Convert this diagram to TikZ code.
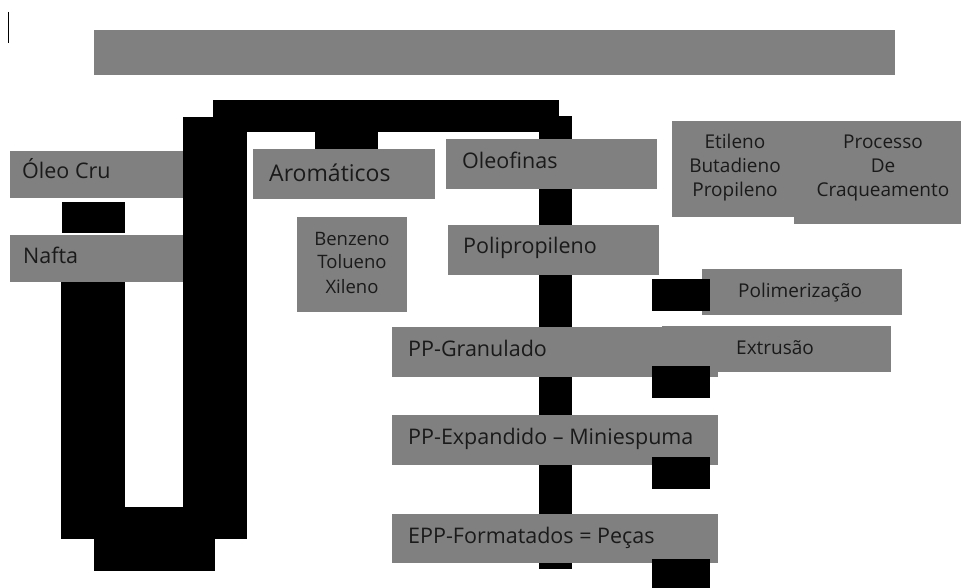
\documentclass[tikz,border=0pt]{standalone}
\usepackage{fontspec}
\setmainfont{Open Sans}
\definecolor{boxgray}{HTML}{808080}
\definecolor{txt}{HTML}{1A1A1A}
\begin{document}
\begin{tikzpicture}[x=1pt,y=-1pt,
  box/.style={fill=boxgray,draw=none,inner sep=0pt,outer sep=0pt,anchor=north west},
  bar/.style={fill=black},
  lbl/.style={anchor=base west,inner sep=0pt,text=txt,font=\fontsize{21.5}{24}\selectfont},
  small/.style={anchor=base west,inner sep=0pt,text=txt,font=\fontsize{19}{24}\selectfont},
  multi/.style={anchor=base,inner sep=0pt,text=txt,font=\fontsize{19}{24}\selectfont}]
\useasboundingbox (0,0) rectangle (961,588);
% pipe (black bars)
\fill[bar] (213,100) rectangle (559,132);
\fill[bar] (539,116) rectangle (572,569);
\fill[bar] (183,117) rectangle (247,539);
\fill[bar] (61,270) rectangle (125,539);
\fill[bar] (61,507) rectangle (247,539);
\fill[bar] (94,539) rectangle (215,571);
\fill[bar] (62,202) rectangle (125,233);
\fill[bar] (315,132) rectangle (378,149);
\draw[line width=1pt] (8,12) -- (8,43);
% gray boxes
\node[box,minimum width=801pt,minimum height=45pt] (title) at (94,30) {};
\node[box,minimum width=173pt,minimum height=47pt] (oleo) at (10,151) {};
\node[box,minimum width=173pt,minimum height=47pt] (nafta) at (10,235) {};
\node[box,minimum width=182pt,minimum height=50pt] (arom) at (253,149) {};
\node[box,minimum width=211pt,minimum height=50pt] (oleof) at (446,139) {};
\node[box,minimum width=110pt,minimum height=95pt] (btx) at (297,217) {};
\node[box,minimum width=211pt,minimum height=50pt] (polip) at (448,225) {};
\node[box,minimum width=128pt,minimum height=96pt] (ebp) at (672,121) {};
\node[box,minimum width=167pt,minimum height=103pt] (proc) at (794,121) {};
\node[box,minimum width=200pt,minimum height=46pt] (polim) at (702,269) {};
\node[box,minimum width=326pt,minimum height=50pt] (gran) at (392,327) {};
\node[box,minimum width=229pt,minimum height=46pt] (extr) at (662,326) {};
\node[box,minimum width=326pt,minimum height=50pt] (expand) at (392,415) {};
\node[box,minimum width=326pt,minimum height=49pt] (epp) at (392,514) {};
% black blocks on top
\fill[bar] (652,279) rectangle (710,311);
\fill[bar] (652,366) rectangle (710,398);
\fill[bar] (652,457) rectangle (710,489);
\fill[bar] (652,559) rectangle (710,588);
% labels
\node[lbl] (toleo) at (22,179) {Óleo Cru};
\node[lbl] (tnafta) at (23,263) {Nafta};
\node[lbl,font=\fontsize{23}{26}\selectfont] (tarom) at (269,182) {Aromáticos};
\node[lbl] (toleof) at (462,169) {Oleofinas};
\node[lbl] (tpolip) at (463,253) {Polipropileno};
\node[multi,font=\fontsize{18.5}{24}\selectfont] (tbtx) at (352,245) {\begin{tabular}[t]{@{}c@{}}Benzeno\\Tolueno\\Xileno\end{tabular}};
\node[multi] (tebp) at (735,149) {\begin{tabular}[t]{@{}c@{}}Etileno\\Butadieno\\Propileno\end{tabular}};
\node[multi] (tproc) at (883,149) {\begin{tabular}[t]{@{}c@{}}Processo\\De\\Craqueamento\end{tabular}};
\node[small] (tpolim) at (738,297) {Polimerização};
\node[small] (textr) at (736,354) {Extrusão};
\node[lbl] (tgran) at (408,356) {PP-Granulado};
\node[lbl] (texpand) at (408,444) {PP-Expandido – Miniespuma};
\node[lbl] (tepp) at (408,543) {EPP-Formatados = Peças};
\end{tikzpicture}
\end{document}
